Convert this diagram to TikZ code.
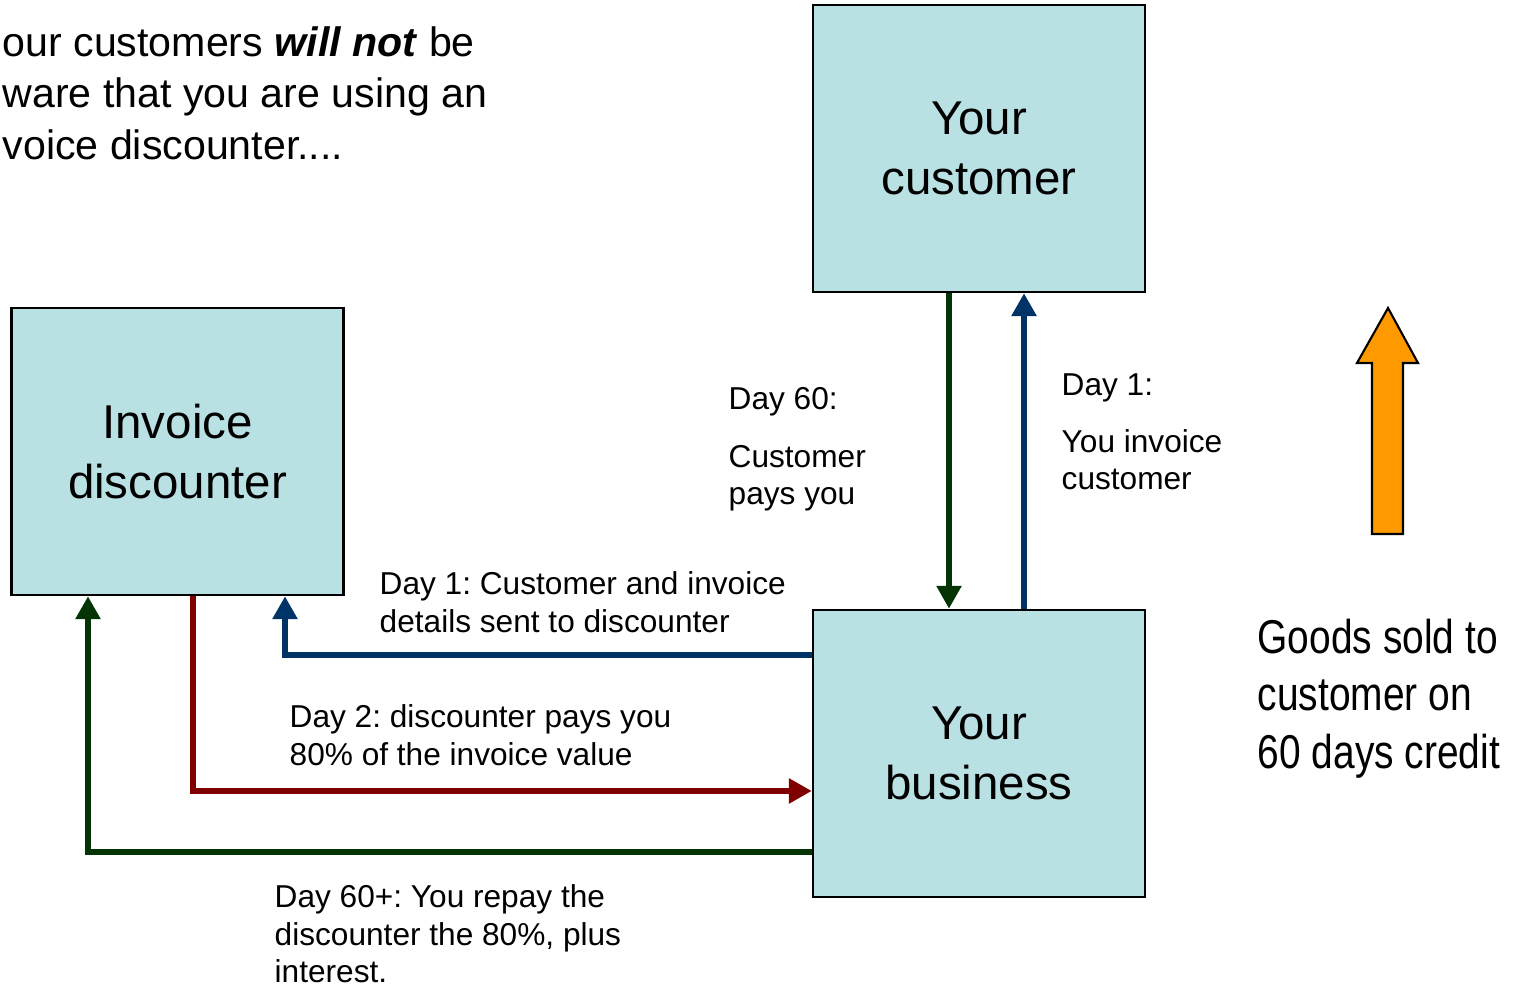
\documentclass[tikz,border=0pt]{standalone}
\usepackage{fontspec}
\setmainfont{Liberation Sans}
\newfontfamily\narrowfont[FakeStretch=0.82]{Liberation Sans}
\usepackage{tikz}
\usetikzlibrary{shapes,arrows.meta,positioning}
\frenchspacing
\definecolor{boxblue}{RGB}{185,224,227}
\definecolor{arrgreen}{RGB}{4,51,4}
\definecolor{arrblue}{RGB}{0,51,102}
\definecolor{arrred}{RGB}{128,0,0}
\definecolor{goodsorange}{RGB}{255,153,0}
\tikzset{
	party/.style={draw=black,line width=0.7pt,fill=boxblue,minimum width=3.32cm,minimum height=2.87cm,inner sep=0pt,align=center,font=\fontsize{13.5}{17}\selectfont},
	flow/.style={line width=0.06cm,-{Triangle[width=0.24cm,length=0.23cm]}},
	note/.style={anchor=north west,inner sep=0pt,align=left,font=\fontsize{9}{10.7}\selectfont}
}
\begin{document}
\begin{tikzpicture}
	\path[use as bounding box] (0,0) rectangle (15.18,9.88);
	\clip (0,0) rectangle (15.18,9.88);
	%% the parties
	\node[party] (customer) at (9.79,8.395) {Your\\customer};
	\node[party] (discounter) at (1.775,5.365) {Invoice\\discounter};
	\node[party] (business) at (9.79,2.345) {Your\\business};
	%% the money and paper flows
	\draw[flow,arrgreen] ([xshift=-0.3cm]customer.south) -- ([xshift=-0.3cm]business.north);
	\draw[flow,arrblue] ([xshift=0.45cm]business.north) -- ([xshift=0.45cm]customer.south);
	\draw[flow,arrblue] ([yshift=0.985cm]business.west) -| ([xshift=1.075cm]discounter.south);
	\draw[flow,arrred] ([xshift=0.155cm]discounter.south) |- ([yshift=-0.375cm]business.west);
	\draw[flow,arrgreen] ([yshift=-0.985cm]business.west) -| ([xshift=-0.895cm]discounter.south);
	%% the labels
	\node[note] (sent) at (3.79,4.17) {Day 1: Customer and invoice\\details sent to discounter};
	\node[note] (advance) at (2.89,2.84) {Day 2: discounter pays you\\80\% of the invoice value};
	\node[note] (repay) at (2.74,1.04) {Day 60+: You repay the\\discounter the 80\%, plus\\interest.};
	\node[note] (paid) at (7.28,6.01) {Day 60:\\[0.2cm]Customer\\pays you};
	\node[note] (invoiced) at (10.61,6.15) {Day 1:\\[0.19cm]You invoice\\customer};
	%% goods sold on credit
	\draw[line width=0.6pt,fill=goodsorange] (13.88,6.80) -- (14.18,6.25) -- (14.03,6.25) -- (14.03,4.54)
		-- (13.72,4.54) -- (13.72,6.25) -- (13.57,6.25) -- cycle;
	\node[anchor=north west,inner sep=0pt,align=left,font=\narrowfont\fontsize{13.5}{16.4}\selectfont] (credit) at (12.57,3.70) {Goods sold to\\customer on\\60 days credit};
	%% the aside, top left
	\node[anchor=north west,inner sep=0pt,align=left,font=\fontsize{11.7}{14.65}\selectfont] (aside) at (0.02,9.62) {our customers \textbf{\textit{will not}} be\\ware that you are using an\\voice discounter....};
\end{tikzpicture}
\end{document}
